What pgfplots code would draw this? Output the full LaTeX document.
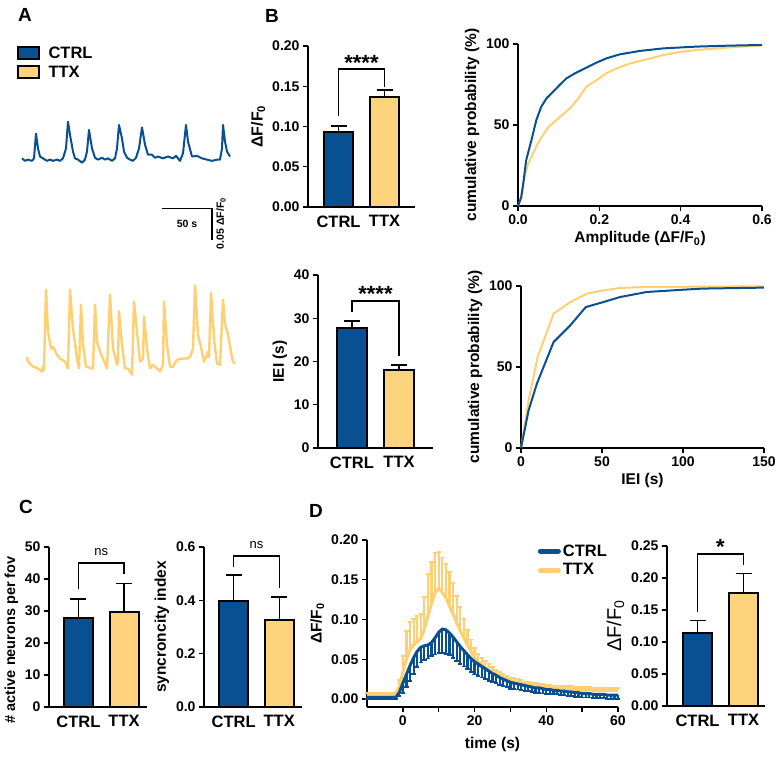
\documentclass[border=0pt]{standalone}
\usepackage{fontspec}
\setmainfont{Liberation Sans}
\usepackage{pgfplots}
\pgfplotsset{compat=1.18}

\definecolor{ctrl}{RGB}{8,80,146}
\definecolor{ttx}{RGB}{254,211,125}
\definecolor{ttxline}{RGB}{255,207,115}

\newcommand{\fs}[1]{\fontsize{#1}{#1}\selectfont}
\newcommand{\dff}{ΔF/F\textsubscript{0}}

\pgfplotsset{
  gp/.style={scale only axis, anchor=south west, enlargelimits=false, clip=false,
    axis x line*=bottom, axis y line*=left,
    axis line style={line width=1.4pt,-},
    tick align=outside, major tick length=5pt, minor tick length=5pt,
    tick style={line width=1.4pt, black},
    tick label style={font=\bfseries\fs{14}},
    label style={font=\bfseries\fs{15.5}},
    /pgf/number format/assume math mode=true},
  gpbar/.style={gp, xtick={0,1}, xticklabels={CTRL,TTX},
    xtick style={draw=none}, xticklabel style={font=\bfseries\fs{16.5}}},
  cbar/.style={ybar, bar width=29pt, draw=black, line width=2pt, fill=#1,
    error bars/y dir=plus, error bars/y explicit,
    error bars/error bar style={line width=1.3pt, black},
    error bars/error mark options={rotate=90, mark size=8pt, line width=1.3pt, black}},
  fix2/.style={/pgf/number format/.cd, fixed, fixed zerofill, precision=2},
  fix1/.style={/pgf/number format/.cd, fixed, fixed zerofill, precision=1},
}

\begin{document}
\begin{tikzpicture}
\useasboundingbox (0,0) rectangle (780pt,-758pt);

% panel letters
\node[font=\bfseries\fs{19}] at (25pt,-15pt) {A};
\node[font=\bfseries\fs{19}] at (272pt,-16pt) {B};
\node[font=\bfseries\fs{19}] at (26pt,-507pt) {C};
\node[font=\bfseries\fs{19}] at (316pt,-511pt) {D};

% legend of A
\draw[fill=ctrl, line width=1.5pt] (18pt,-47pt) rectangle (39pt,-59pt);
\draw[fill=ttx, line width=1.5pt] (18pt,-66pt) rectangle (39pt,-78pt);
\node[anchor=west, font=\bfseries\fs{16.5}] at (45pt,-53pt) {CTRL};
\node[anchor=west, font=\bfseries\fs{16.5}] at (45pt,-72pt) {TTX};

% A: CTRL trace
\begin{axis}[scale only axis, anchor=south west, at={(22pt,-172pt)},
  x=1pt, y=620pt, xmin=0, xmax=210, ymin=-0.02, ymax=0.08, hide axis, clip=false]
\addplot[ctrl, line width=2pt, line join=round] coordinates {
(0,0.002) (3,-0.002) (6,0) (10,-0.002) (12,0.002) (14,0.042) (16,0.018) (18,0.005)
(21,0.002) (25,-0.002) (28,0) (31,-0.002) (35,0) (38,-0.002) (41,0.002) (44,0.018)
(46,0.061) (48,0.040) (51,0.013) (53,0.002) (56,0) (60,-0.005) (63,0) (65,0.013)
(67,0.048) (70,0.018) (73,0.003) (76,0) (80,0.003) (83,0) (86,0.002) (90,-0.002)
(93,0.002) (95,0.018) (97,0.056) (100,0.034) (102,0.013) (105,0.003) (108,0)
(111,-0.002) (114,0.003) (117,0.018) (120,0.052) (123,0.024) (126,0.008) (130,0.008)
(133,0.003) (136,0.005) (141,0.002) (146,0.005) (151,0.002) (154,0.006) (158,-0.002)
(161,0.010) (164,0.056) (166,0.029) (170,0.005) (175,0.006) (180,0.002) (185,0)
(190,-0.002) (195,0) (198,0) (200,0.018) (201,0.056) (203,0.029) (205,0.013) (208,0.005)
};
\draw[line width=1.2pt] (axis cs:140,-0.079) -- (axis cs:190,-0.079) -- (axis cs:190,-0.129);
\node[font=\bfseries\fs{10.5}] at (axis cs:165,-0.103) {50 s};
\node[font=\bfseries\fs{10.5}, rotate=90] at (axis cs:199,-0.103) {0.05 \dff};
\end{axis}

% A: TTX trace
\begin{axis}[scale only axis, anchor=south west, at={(22pt,-379pt)},
  x=1pt, y=620pt, xmin=0, xmax=215, ymin=-0.02, ymax=0.14, hide axis, clip=false]
\addplot[ttxline, line width=2.4pt, line join=round] coordinates {
(5,0.016) (6,0.008) (11,0) (16,-0.003) (20,-0.008) (21,0) (22,-0.005) (24,0.124)
(26,0.056) (29,0.029) (31,0.032) (35,0.019) (38,0.013) (43,0.008) (46,-0.003)
(48,0.124) (51,0.061) (55,0.013) (57,-0.003) (59,0.100) (61,0.035) (64,0) (68,-0.002)
(71,-0.003) (73,0.100) (75,0.040) (78,0.024) (81,0.013) (85,-0.003) (88,0.116)
(91,0.029) (95,0.003) (96,0.008) (97,0.089) (100,0.035) (103,-0.003) (106,-0.003)
(110,-0.013) (112,0.105) (115,0.056) (118,0.008) (121,0.013) (122,0.081) (125,0.029)
(128,-0.003) (131,0.003) (135,-0.003) (138,-0.008) (141,0.003) (142,0.105) (145,0.035)
(148,0) (151,0) (155,0.011) (160,0.013) (165,0.013) (168,0.016) (171,0.029) (173,0.131)
(176,0.052) (180,0.024) (182,0.008) (185,0.019) (186,0.024) (187,0.015) (189,0.119)
(192,0.045) (195,0.005) (198,0.003) (201,0.108) (203,0.068) (206,0.052) (209,0.024)
(211,0.008) (213,0.005)
};
\end{axis}

% B: amplitude bars
\begin{axis}[gpbar, at={(308pt,-207pt)}, width=107pt, height=161pt,
  xmin=-0.663, xmax=1.663, ymin=0, ymax=0.2, ytick={0,0.05,0.1,0.15,0.2},
  yticklabel style={fix2}, ylabel={\dff}, ylabel style={font=\bfseries\fs{16}}]
\addplot[cbar=ctrl] coordinates {(0,0.0932) +- (0,0.0074)};
\addplot[cbar=ttx] coordinates {(1,0.137) +- (0,0.0083)};
\draw[line width=1.3pt] (axis cs:0,0.113) |- (axis cs:1,0.1714) -- (axis cs:1,0.149);
\node[anchor=base, font=\bfseries\fs{22}] at (axis cs:0.5,0.169) {****};
\end{axis}

% B: amplitude cumulative
\begin{axis}[gp, at={(518pt,-206pt)}, width=244pt, height=162pt,
  xmin=0, xmax=0.6, ymin=0, ymax=100, xtick={0,0.2,0.4,0.6}, ytick={0,50,100},
  xticklabel style={fix1}, xlabel={Amplitude (\dff)}, ylabel={cumulative probability (\%)}]
\addplot[ttxline, line width=2pt] coordinates {
(0,0) (0.008,4.5) (0.016,17.9) (0.025,26.2) (0.037,32.4) (0.049,38.6) (0.061,43.7)
(0.074,48.5) (0.094,53.0) (0.115,57.5) (0.131,61.2) (0.148,66.4) (0.168,73.6)
(0.193,77.7) (0.217,81.9) (0.242,84.9) (0.275,88.0) (0.316,90.5) (0.357,93.2)
(0.398,95.1) (0.439,96.3) (0.521,97.9) (0.600,99.2)
};
\addplot[ctrl, line width=2pt] coordinates {
(0,0) (0.008,5.6) (0.014,15.9) (0.020,28.2) (0.033,40.6) (0.045,53.0) (0.057,61.2)
(0.070,66.4) (0.086,70.5) (0.102,74.6) (0.119,78.8) (0.143,82.3) (0.168,85.4)
(0.193,88.5) (0.217,91.1) (0.250,93.6) (0.299,95.7) (0.357,97.3) (0.439,98.4)
(0.521,99.0) (0.600,99.4)
};
\end{axis}

% B: IEI bars
\begin{axis}[gpbar, at={(318pt,-448pt)}, width=115pt, height=173pt,
  xmin=-0.723, xmax=1.723, ymin=0, ymax=40, ytick={0,10,20,30,40},
  ylabel={IEI (s)}]
\addplot[cbar=ctrl, /pgfplots/bar width=30pt] coordinates {(0,27.7) +- (0,1.7)};
\addplot[cbar=ttx, /pgfplots/bar width=30pt] coordinates {(1,18.0) +- (0,1.2)};
\draw[line width=1.3pt] (axis cs:0,31.45) |- (axis cs:1,34.0) -- (axis cs:1,21.3);
\node[anchor=base, font=\bfseries\fs{22}] at (axis cs:0.5,33.8) {****};
\end{axis}

% B: IEI cumulative
\begin{axis}[gp, at={(521pt,-448pt)}, width=243pt, height=162pt,
  xmin=0, xmax=150, ymin=0, ymax=100, xtick={0,50,100,150}, ytick={0,50,100},
  xlabel={IEI (s)}, ylabel={cumulative probability (\%)}]
\addplot[ttxline, line width=2pt] coordinates {
(0,0) (4.7,29.4) (10.3,56.2) (20.1,82.9) (30.4,90.1) (40.6,95.3) (50.9,97.3)
(61.2,98.8) (77.6,99.4) (150,99.8)
};
\addplot[ctrl, line width=2pt] coordinates {
(0,0) (4.7,23.3) (9.8,39.7) (20.1,65.4) (30.4,75.7) (40,87) (50.9,90.1) (61.2,93.2)
(77.6,96.3) (100,97.7) (112,98.4) (150,99.0)
};
\end{axis}

% C: active neurons
\begin{axis}[gpbar, at={(49pt,-707pt)}, width=98pt, height=160pt,
  xmin=-0.648, xmax=1.505, ymin=0, ymax=50, ytick={0,10,20,30,40,50},
  ylabel={\# active neurons per fov},
  ylabel style={font=\bfseries\fs{14.5}, at={(ticklabel cs:0.42)}}]
\addplot[cbar=ctrl] coordinates {(0,27.8) +- (0,6.0)};
\addplot[cbar=ttx] coordinates {(1,29.7) +- (0,9.0)};
\draw[line width=1.3pt] (axis cs:0,36.9) |- (axis cs:1,45) -- (axis cs:1,41.6);
\node[anchor=base, font=\fs{13}] at (axis cs:0.5,47.3) {ns};
\end{axis}

% C: synchronicity
\begin{axis}[gpbar, at={(204pt,-707pt)}, width=98pt, height=160pt,
  xmin=-0.652, xmax=1.5, ymin=0, ymax=0.6, ytick={0,0.2,0.4,0.6},
  yticklabel style={fix1}, ylabel={syncroncity index}]
\addplot[cbar=ctrl] coordinates {(0,0.399) +- (0,0.096)};
\addplot[cbar=ttx] coordinates {(1,0.326) +- (0,0.086)};
\draw[line width=1.3pt] (axis cs:0,0.525) |- (axis cs:1,0.566) -- (axis cs:1,0.446);
\node[anchor=base, font=\fs{13}] at (axis cs:0.5,0.594) {ns};
\end{axis}

% D: mean traces with SEM
\begin{axis}[gp, at={(367pt,-707pt)}, width=251pt, height=167pt,
  xmin=-10, xmax=60, ymin=-0.01, ymax=0.2, xtick={0,20,40,60},
  minor xtick={10,30,50}, ytick={0,0.05,0.1,0.15,0.2}, yticklabel style={fix2},
  xlabel={time (s)}, ylabel={\dff}, xlabel style={yshift=-5pt},
  legend style={draw=none, fill=none, at={(axis cs:37.6,0.197)}, anchor=north west,
    font=\bfseries\fs{16.5}, inner sep=0pt, row sep=2pt},
  legend cell align=left,
  legend image code/.code={\draw[#1, line width=5pt, line cap=round] (0pt,0pt) -- (18pt,0pt);}]
\addlegendimage{ctrl}
\addlegendentry{CTRL}
\addlegendimage{ttxline}
\addlegendentry{TTX}
\addplot[ttxline, line width=3pt, forget plot,
  error bars/.cd, y dir=plus, y explicit,
  error bar style={line width=2.2pt, ttxline},
  error mark options={rotate=90, mark size=2.2pt, line width=1.8pt, ttxline}]
  table[x=t, y=m, y error=e] {
t m e
-10 0.006 0.002
-9 0.006 0.002
-8 0.006 0.002
-7 0.006 0.002
-6 0.006 0.002
-5 0.006 0.002
-4 0.006 0.002
-3 0.006 0.002
-2 0.006 0.002
-1 0.016 0.008
0 0.034 0.020
1 0.050 0.036
2 0.062 0.035
3 0.068 0.033
4 0.072 0.032
5 0.076 0.031
6 0.088 0.040
7 0.105 0.052
8 0.120 0.052
9 0.134 0.050
10 0.139 0.046
11 0.134 0.044
12 0.127 0.043
13 0.117 0.043
14 0.107 0.039
15 0.096 0.034
16 0.086 0.030
17 0.077 0.024
18 0.068 0.019
19 0.060 0.015
20 0.052 0.012
21 0.047 0.010
22 0.043 0.009
23 0.040 0.008
24 0.037 0.007
25 0.034 0.006
26 0.031 0.006
27 0.029 0.005
28 0.027 0.005
29 0.025 0.004
30 0.023 0.004
31 0.022 0.004
32 0.021 0.004
33 0.020 0.004
34 0.019 0.003
35 0.018 0.003
36 0.017 0.003
37 0.017 0.003
38 0.016 0.003
39 0.016 0.003
40 0.015 0.003
41 0.015 0.003
42 0.014 0.003
43 0.014 0.003
44 0.014 0.003
45 0.013 0.003
46 0.013 0.003
47 0.013 0.003
48 0.012 0.003
49 0.012 0.003
50 0.012 0.003
51 0.012 0.003
52 0.012 0.003
53 0.011 0.003
54 0.011 0.003
55 0.011 0.003
56 0.011 0.003
57 0.011 0.003
58 0.011 0.003
59 0.011 0.003
60 0.011 0.003
};
\addplot[ctrl, line width=3pt, forget plot,
  error bars/.cd, y dir=minus, y explicit,
  error bar style={line width=2.2pt, ctrl},
  error mark options={rotate=90, mark size=2.2pt, line width=1.8pt, ctrl}]
  table[x=t, y=m, y error=e] {
t m e
-10 0.002 0.002
-9 0.002 0.002
-8 0.002 0.002
-7 0.002 0.002
-6 0.002 0.002
-5 0.002 0.002
-4 0.002 0.002
-3 0.002 0.002
-2 0.002 0.002
-1 0.008 0.004
0 0.020 0.012
1 0.031 0.016
2 0.042 0.019
3 0.052 0.020
4 0.060 0.020
5 0.065 0.019
6 0.067 0.018
7 0.068 0.017
8 0.071 0.017
9 0.077 0.021
10 0.084 0.026
11 0.088 0.030
12 0.087 0.030
13 0.083 0.028
14 0.078 0.026
15 0.072 0.024
16 0.066 0.022
17 0.061 0.020
18 0.056 0.018
19 0.051 0.017
20 0.047 0.016
21 0.044 0.015
22 0.041 0.014
23 0.038 0.013
24 0.035 0.012
25 0.032 0.011
26 0.030 0.010
27 0.027 0.009
28 0.025 0.009
29 0.023 0.008
30 0.021 0.008
31 0.020 0.007
32 0.019 0.007
33 0.018 0.007
34 0.017 0.007
35 0.016 0.006
36 0.015 0.006
37 0.014 0.006
38 0.014 0.006
39 0.013 0.006
40 0.012 0.006
41 0.012 0.006
42 0.011 0.005
43 0.011 0.005
44 0.010 0.005
45 0.010 0.005
46 0.009 0.005
47 0.009 0.005
48 0.008 0.005
49 0.008 0.005
50 0.007 0.005
51 0.007 0.005
52 0.007 0.005
53 0.006 0.005
54 0.006 0.005
55 0.006 0.005
56 0.006 0.005
57 0.005 0.005
58 0.005 0.005
59 0.005 0.005
60 0.005 0.005
};
\end{axis}

% D: peak amplitude bars
\begin{axis}[gpbar, at={(667pt,-706pt)}, width=98pt, height=160pt,
  xmin=-0.663, xmax=1.467, ymin=0, ymax=0.25, ytick={0,0.05,0.1,0.15,0.2,0.25},
  yticklabel style={fix2}, ylabel={\dff}, ylabel style={font=\fs{20}}]
\addplot[cbar=ctrl] coordinates {(0,0.1146) +- (0,0.0187)};
\addplot[cbar=ttx] coordinates {(1,0.177) +- (0,0.0297)};
\draw[line width=1.3pt] (axis cs:0,0.1469) |- (axis cs:1,0.2375) -- (axis cs:1,0.2203);
\node[anchor=base, font=\bfseries\fs{22}] at (axis cs:0.5,0.236) {*};
\end{axis}

\end{tikzpicture}
\end{document}
